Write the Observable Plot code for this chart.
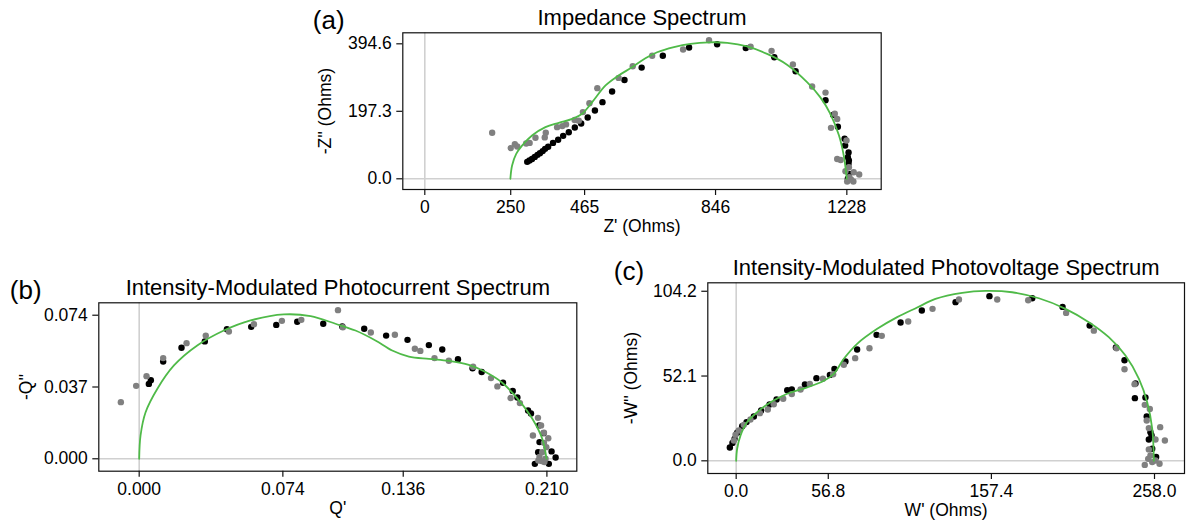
<!DOCTYPE html>
<html><head><meta charset="utf-8">
<script src="https://cdn.jsdelivr.net/npm/d3@7"></script>
<script src="https://cdn.jsdelivr.net/npm/@observablehq/plot@0.6"></script>
<style>
html,body{margin:0;padding:0;background:#fff;}
#wrap{position:relative;width:1188px;height:527px;overflow:hidden;}
</style></head><body><div id="wrap"></div>
<script>
// ---------- Panel (a): Impedance Spectrum ----------
const aTitle = "Impedance Spectrum";
const aXTicks = [0, 250, 465, 846, 1228];
const aYTicks = [0, 197.3, 394.6];
const aBlack = [[298,49.6],[304.6,53.5],[312,58],[320,64],[328,70],[335,75],[343,81],[350,87.6],[359,93.5],[373,105],[388,114],[402.6,125.6],[419,136],[436.5,150],[455,161.7],[474,179],[495,199.6],[517,224],[545,255],[581,289],[631,325],[692.6,359.5],[769,384],[850.6,393.5],[934,382],[1017,355.5],[1079,314.6],[1166,229.7],[1188,187],[1202,152],[1221.5,117],[1223,97.4],[1233,77],[1231,63],[1234,53.5],[1233,43.8],[1235,14.5],[1231,0]];
const aGray = [[196,134.5],[250,89.7],[262,101],[269,94.5],[295,103],[305,105],[322,120],[349,121],[352,134.5],[385,151],[400,154],[411,159],[436,172],[448,170],[460,195],[479,221],[502,265],[564,295],[605,329],[661.6,359.5],[751.6,378],[827,405],[948,386],[1009,374],[1071,334],[1127,270],[1166,252],[1193,190],[1200,175],[1182,149],[1227,112],[1200,58],[1210,55],[1234,34],[1248,19],[1264,12.6],[1224,22],[1240,-2],[1229,-8],[1247,-8],[1235,5]];
const aFit = [[249,0],[254,39],[266,73],[283,97],[312,126.6],[351,151],[390,163.6],[429,175],[458,190],[487,224],[526,273],[564,302],[603,326],[642,352.6],[676,370],[725,385],[773,394.6],[827,399],[880,397.5],[938,387],[996,365],[1055,333],[1113,282],[1151,238],[1180,190],[1205,127],[1219,68],[1228,0]];

// ---------- Panel (b): IMPS ----------
const bTitle = "Intensity-Modulated Photocurrent Spectrum";
const bXTicks = [0, 0.074, 0.136, 0.210];
const bYTicks = [0, 0.037, 0.074];
const bBlack = [[0.00498,0.0386],[0.00601,0.0405],[0.01236,0.0501],[0.0218,0.0572],[0.0338,0.0605],[0.0452,0.0668],[0.0577,0.068],[0.0706,0.069],[0.0814,0.0706],[0.0948,0.0696],[0.1046,0.0682],[0.1159,0.067],[0.1272,0.0635],[0.1382,0.0613],[0.1492,0.0586],[0.1561,0.0563],[0.1642,0.0513],[0.1717,0.0467],[0.1764,0.0447],[0.1874,0.0392],[0.1924,0.035],[0.1948,0.0316],[0.2003,0.0249],[0.2018,0.0234],[0.206,0.0172],[0.2083,0.0132],[0.2062,0.0086],[0.2055,0.0034],[0.2124,0.0038],[0.2145,0.0007],[0.2038,-0.0026],[0.211,-0.0026]];
const bGray = [[-0.00944,0.0292],[-0.00155,0.0376],[0.00378,0.0426],[0.01236,0.0519],[0.0244,0.0596],[0.0343,0.0635],[0.0462,0.0656],[0.0591,0.0694],[0.0735,0.0711],[0.0835,0.0716],[0.1024,0.0766],[0.1049,0.0678],[0.1193,0.0651],[0.1317,0.0639],[0.142,0.0567],[0.1448,0.0556],[0.1521,0.0519],[0.1595,0.0505],[0.172,0.0474],[0.1812,0.0416],[0.1845,0.0373],[0.1913,0.0313],[0.1961,0.0287],[0.2054,0.0211],[0.207,0.0172],[0.2028,0.012],[0.2085,0.0134],[0.2107,0.0106],[0.2085,0.0082],[0.2097,0.006],[0.2076,0.0034],[0.2062,0.0009],[0.2073,-0.0012],[0.2093,0],[0.2087,-0.0017],[0.2056,-0.0009]];
const bFit = [[0,0],[0.0007,0.012],[0.0033,0.024],[0.0093,0.036],[0.0179,0.0481],[0.0299,0.0584],[0.0436,0.0661],[0.0574,0.0713],[0.0745,0.0744],[0.0883,0.0735],[0.1011,0.0696],[0.1114,0.0661],[0.1217,0.061],[0.1303,0.0558],[0.1389,0.0527],[0.1492,0.0515],[0.1595,0.0505],[0.1698,0.0484],[0.1784,0.0447],[0.187,0.0392],[0.1956,0.0301],[0.2025,0.0206],[0.2076,0.0103],[0.2098,0]];

// ---------- Panel (c): IMVS ----------
const cTitle = "Intensity-Modulated Photovoltage Spectrum";
const cXTicks = [0, 56.8, 157.4, 258.0];
const cYTicks = [0, 52.1, 104.2];
const cBlack = [[-3.9,8.2],[-2.3,11],[-1.0,13.5],[0.6,17.2],[3.7,21.3],[6.4,23.8],[10.9,27.2],[15.4,30.9],[20.6,34.6],[24.9,37.7],[31.5,43.4],[34.3,43.8],[42.4,46.9],[49.5,50.8],[57.8,52.8],[60.6,56.5],[67.4,61],[74.6,68.4],[86.6,77.4],[101.4,85],[114.5,92.4],[135.3,97.5],[156.2,101.2],[182.6,99.9],[201.3,94.6],[218,83.1],[234.2,69.6],[239.5,61.8],[246.3,47.5],[245.9,38.5],[252.4,38.9],[253.2,27.2],[255.5,17.6],[256.2,15.6],[254.5,13.1],[256.6,7.4],[259.0,2.3]];
const cGray = [[-1.4,12.5],[-0.4,16],[1.6,18.6],[4.7,22.1],[8.8,25.4],[14.6,29.3],[19.5,31.5],[23.2,34.8],[29,38.1],[34.3,41],[39.7,43.8],[45.4,47.3],[53.5,50.4],[59.8,53.2],[66.4,59],[73.4,63.1],[82.2,69.2],[89.8,76.8],[106.1,85.6],[121.1,93.4],[137.4,99.1],[161.0,99.1],[180.1,98.7],[203.5,90.9],[220.6,80],[234.6,69.2],[239.5,56.3],[245.7,47.1],[252.0,34.4],[255.1,31.9],[253.2,24.8],[254.5,20.1],[261.5,20.7],[264.4,12.5],[258.6,13.1],[254.5,7],[255.5,3.3],[252,-2.5],[258.6,0.2],[261.1,-1.8],[256.6,-0.8],[254.1,1.2]];
const cFit = [[0,0],[0.6,7.4],[2.7,15.6],[6.8,23.8],[13,29.9],[21.2,36],[31.5,41.2],[43.8,45.1],[54.1,49.2],[60.2,53.5],[66.4,62.7],[74.6,71.9],[87,81.1],[99.3,88.3],[111.6,94.2],[122.9,99.5],[139.4,103.2],[153.7,104.4],[170.2,103.6],[186.7,99.9],[203.1,93.4],[217.5,85.2],[229.8,76],[240.1,64.7],[248.4,50.4],[253.5,36],[256.6,19.7],[257.6,0]];

const FONT = "'Liberation Sans', Arial, Helvetica, sans-serif";
const GREEN = "#4fba48";

function panel(o) {
  const svg = Plot.plot({
    width: o.width, height: o.height,
    marginLeft: o.mL, marginRight: o.mR, marginTop: o.mT, marginBottom: o.mB,
    x: {domain: o.xDom},
    y: {domain: o.yDom},
    style: {fontFamily: FONT, background: "transparent", overflow: "visible", color: "black"},
    marks: [
      Plot.ruleX([0], {stroke: "#d0d0d0", strokeWidth: 1.6}),
      Plot.ruleY([0], {stroke: "#d0d0d0", strokeWidth: 1.6}),
      Plot.dot(o.black, {x: d => d[0], y: d => d[1], r: 3.2, fill: "#000", stroke: null}),
      Plot.dot(o.gray, {x: d => d[0], y: d => d[1], r: 3.2, fill: "#808080", stroke: null}),
      Plot.line(o.fit, {x: d => d[0], y: d => d[1], stroke: GREEN, strokeWidth: 1.8, curve: "catmull-rom"}),
      Plot.frame({stroke: "#111", strokeWidth: 1.2}),
      Plot.axisX({ticks: o.xTicks, tickFormat: o.xFmt, tickSize: 6, tickPadding: 5, fontSize: 17.5, stroke: "#111", strokeWidth: 1.2, fill: "black", label: null}),
      Plot.axisY({ticks: o.yTicks, tickFormat: o.yFmt, tickSize: 6, tickPadding: 5, fontSize: 17.5, stroke: "#111", strokeWidth: 1.2, fill: "black", label: null}),
      Plot.text([o.title], {text: d => d, frameAnchor: "top", dy: -8, lineAnchor: "bottom", fontSize: 22, fill: "black"}),
      Plot.text([o.letter], {text: d => d, frameAnchor: "top-left", dx: o.letterDx, dy: o.letterDy, textAnchor: "start", lineAnchor: "bottom", fontSize: 26, fill: "black"}),
      Plot.text([o.xLabel], {text: d => d, frameAnchor: "bottom", dy: 30, lineAnchor: "top", fontSize: 17.5, fill: "black"}),
      Plot.text([o.yLabel], {text: d => d, frameAnchor: "left", dx: o.yLabelDx, rotate: -90, textAnchor: "middle", lineAnchor: "middle", fontSize: 17.5, fill: "black"})
    ]
  });
  svg.style.position = "absolute";
  svg.style.left = o.left + "px";
  svg.style.top = o.top + "px";
  document.getElementById("wrap").appendChild(svg);
}

panel({left: 290, top: 0, width: 600, height: 250, mL: 112.3, mR: 9.3, mT: 32.3, mB: 61,
  xDom: [-64, 1328], yDom: [-31.3, 426.8], xTicks: aXTicks, yTicks: aYTicks,
  xFmt: d => String(d), yFmt: d => d.toFixed(1),
  black: aBlack, gray: aGray, fit: aFit, title: aTitle, letter: "(a)", letterDx: -90, letterDy: -4,
  xLabel: "Z' (Ohms)", yLabel: "-Z'' (Ohms)", yLabelDx: -77});

panel({left: 0, top: 250, width: 590, height: 277, mL: 98.3, mR: 13.7, mT: 52.3, mB: 56.3,
  xDom: [-0.0208, 0.2254], yDom: [-0.0064, 0.0804], xTicks: bXTicks, yTicks: bYTicks,
  xFmt: d => d.toFixed(3), yFmt: d => d.toFixed(3),
  black: bBlack, gray: bGray, fit: bFit, title: bTitle, letter: "(b)", letterDx: -89, letterDy: -4,
  xLabel: "Q'", yLabel: "-Q''", yLabelDx: -72});

panel({left: 600, top: 250, width: 588, height: 277, mL: 107.3, mR: 4, mT: 32.3, mB: 54,
  xDom: [-17.5, 276.5], yDom: [-7.8, 109.4], xTicks: cXTicks, yTicks: cYTicks,
  xFmt: d => d.toFixed(1), yFmt: d => d.toFixed(1),
  black: cBlack, gray: cGray, fit: cFit, title: cTitle, letter: "(c)", letterDx: -94, letterDy: -3,
  xLabel: "W' (Ohms)", yLabel: "-W'' (Ohms)", yLabelDx: -76});
</script>
</body></html>
